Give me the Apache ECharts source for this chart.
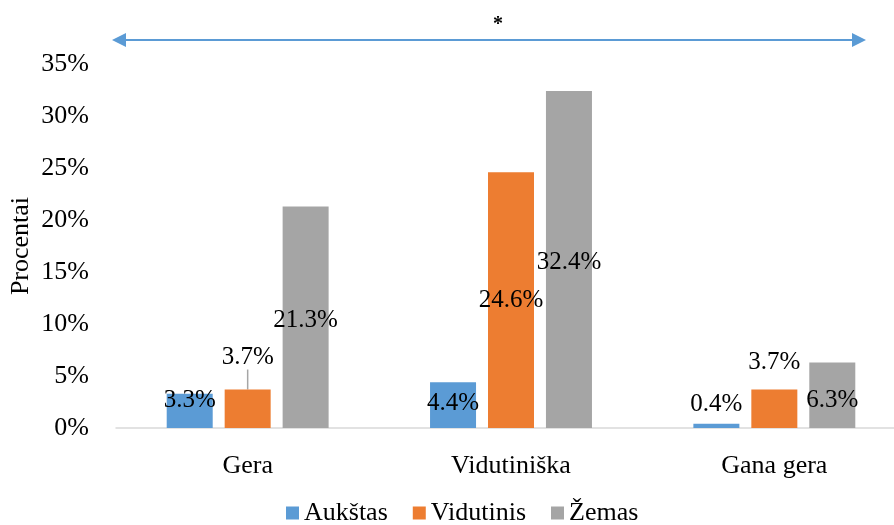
<!DOCTYPE html>
<html>
<head>
<meta charset="utf-8">
<script src="https://cdn.jsdelivr.net/npm/echarts@6/dist/echarts.min.js"></script>
<style>
  html, body { margin: 0; padding: 0; background: #fff; }
  #chart { width: 894px; height: 525px; }
</style>
</head>
<body>
<div id="chart"></div>
<script>
// duomenys
var categories = ['Gera', 'Vidutiniška', 'Gana gera'];
var seriesNames = ['Aukštas', 'Vidutinis', 'Žemas'];
var aukstas = [3.3, 4.4, 0.4];
var vidutinis = [3.7, 24.6, 3.7];
var zemas = [21.3, 32.4, 6.3];
var yTicks = [0, 5, 10, 15, 20, 25, 30, 35];

var colors = ['#5B9BD5', '#ED7D31', '#A5A5A5'];
var font = '"Liberation Serif", "Times New Roman", serif';

// etikečių vietos (tik stilius)
var blueLabels = [
    { position: 'inside', offset: [0, -10] },
    { position: 'inside', offset: [0, -2] },
    { position: 'top', offset: [0, -2] }
];
var orangeLabels = [
    { position: 'top' },
    { position: 'inside', offset: [0, 3] },
    { position: 'top', distance: 15 }
];
var greyLabels = [
    { position: 'inside', offset: [0, 3] },
    { position: 'inside', offset: [0, 3] },
    { position: 'inside', offset: [0, 5] }
];

function items(values, labels, lines) {
    return values.map(function (v, i) {
        var d = { value: v, label: labels[i] };
        if (lines) d.labelLine = { show: !!lines[i] };
        return d;
    });
}

var chart = echarts.init(document.getElementById('chart'));

var labelStyle = {
    show: true,
    color: '#000',
    fontFamily: font,
    fontSize: 25,
    formatter: function (p) { return p.value.toFixed(1) + '%'; }
};

var option = {
    animation: false,
    color: colors,
    textStyle: { fontFamily: font },
    grid: { left: 116, top: 64, width: 790, height: 364, containLabel: false, outerBoundsMode: 'none' },
    legend: {
        data: seriesNames,
        bottom: -6,
        left: 281,
        icon: 'rect',
        itemWidth: 13,
        itemHeight: 13,
        itemGap: 25,
        textStyle: { fontFamily: font, fontSize: 26, color: '#000', padding: [0, 0, 0, 0] }
    },
    xAxis: {
        type: 'category',
        data: categories,
        axisLine: { lineStyle: { color: '#D9D9D9', width: 1.5 } },
        axisTick: { show: false },
        axisLabel: { color: '#000', fontFamily: font, fontSize: 26, margin: 25 }
    },
    yAxis: {
        type: 'value',
        min: yTicks[0],
        max: yTicks[yTicks.length - 1],
        interval: 5,
        name: 'Procentai',
        nameLocation: 'middle',
        nameGap: 82,
        nameMoveOverlap: false,
        nameTextStyle: { color: '#000', fontFamily: font, fontSize: 26 },
        splitLine: { show: false },
        axisLine: { show: false },
        axisTick: { show: false },
        axisLabel: { color: '#000', fontFamily: font, fontSize: 26, margin: 27, formatter: '{value}%' }
    },
    series: [
        {
            name: seriesNames[0],
            type: 'bar',
            barWidth: 46,
            barGap: '26%',
            label: labelStyle,
            data: items(aukstas, blueLabels)
        },
        {
            name: seriesNames[1],
            type: 'bar',
            barWidth: 46,
            barGap: '26%',
            label: labelStyle,
            labelLine: { lineStyle: { color: '#A6A6A6', width: 1.5 } },
            labelLayout: function (p) {
                return p.dataIndex === 0 ? { dy: -15 } : {};
            },
            data: items(vidutinis, orangeLabels, [true, false, false])
        },
        {
            name: seriesNames[2],
            type: 'bar',
            barWidth: 46,
            barGap: '26%',
            label: labelStyle,
            data: items(zemas, greyLabels)
        }
    ],
    graphic: [
        // dvipusė rodyklė ir žvaigždutė viršuje
        { type: 'line', shape: { x1: 124, y1: 40, x2: 854, y2: 40 }, style: { stroke: '#5B9BD5', lineWidth: 2 } },
        { type: 'polygon', shape: { points: [[112, 40], [126, 33], [126, 47]] }, style: { fill: '#5B9BD5' } },
        { type: 'polygon', shape: { points: [[866, 40], [852, 33], [852, 47]] }, style: { fill: '#5B9BD5' } },
        { type: 'text', left: 493, top: 15, style: { text: '*', font: 'bold 20px ' + font, fill: '#000' } }
    ]
};

chart.setOption(option);
</script>
</body>
</html>
